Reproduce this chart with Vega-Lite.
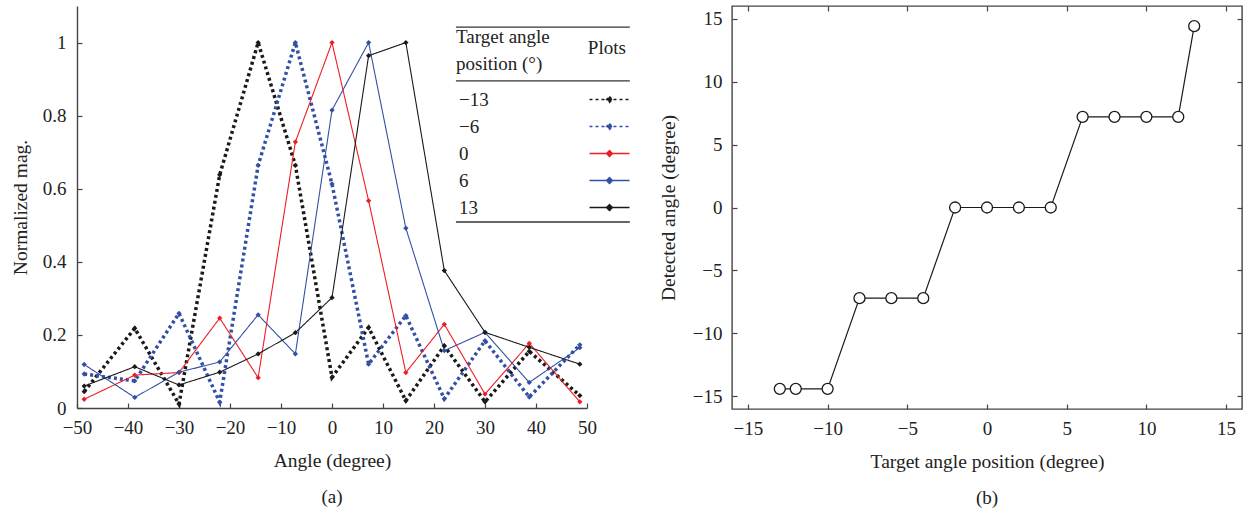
{
  "$schema": "https://vega.github.io/schema/vega-lite/v6.json",
  "background": "white",
  "padding": {"left": 10, "top": 4, "right": 0, "bottom": 0},
  "spacing": 145,
  "bounds": "flush",
  "config": {
    "font": "Liberation Serif",
    "view": {"stroke": null},
    "axis": {
      "labelFont": "Liberation Serif",
      "titleFont": "Liberation Serif",
      "labelFontSize": 19,
      "titleFontSize": 19.5,
      "titleFontWeight": "normal",
      "labelColor": "#222",
      "titleColor": "#222",
      "tickSize": -5,
      "labelPadding": 15,
      "domainColor": "#444",
      "domainWidth": 1.4,
      "tickColor": "#444",
      "tickWidth": 1.2,
      "grid": false,
      "labelFlush": false,
      "labelOverlap": false
    },
    "legend": {
      "labelFont": "Liberation Serif",
      "titleFont": "Liberation Serif"
    },
    "title": {"font": "Liberation Serif", "fontSize": 19, "fontWeight": "normal", "color": "#222"}
  },
  "datasets": {
    "lines": [
      {"target": "−13", "angle": -48.59, "mag": 0.045},
      {"target": "−13", "angle": -38.68, "mag": 0.218},
      {"target": "−13", "angle": -30, "mag": 0.011},
      {"target": "−13", "angle": -22.02, "mag": 0.638},
      {"target": "−13", "angle": -14.48, "mag": 1.0},
      {"target": "−13", "angle": -7.18, "mag": 0.664},
      {"target": "−13", "angle": 0, "mag": 0.084},
      {"target": "−13", "angle": 7.18, "mag": 0.22},
      {"target": "−13", "angle": 14.48, "mag": 0.02},
      {"target": "−13", "angle": 22.02, "mag": 0.17},
      {"target": "−13", "angle": 30, "mag": 0.017},
      {"target": "−13", "angle": 38.68, "mag": 0.155},
      {"target": "−13", "angle": 48.59, "mag": 0.034},
      {"target": "−6", "angle": -48.59, "mag": 0.093},
      {"target": "−6", "angle": -38.68, "mag": 0.074},
      {"target": "−6", "angle": -30, "mag": 0.259},
      {"target": "−6", "angle": -22.02, "mag": 0.016},
      {"target": "−6", "angle": -14.48, "mag": 0.664},
      {"target": "−6", "angle": -7.18, "mag": 1.0},
      {"target": "−6", "angle": 0, "mag": 0.613},
      {"target": "−6", "angle": 7.18, "mag": 0.12},
      {"target": "−6", "angle": 14.48, "mag": 0.253},
      {"target": "−6", "angle": 22.02, "mag": 0.025},
      {"target": "−6", "angle": 30, "mag": 0.184},
      {"target": "−6", "angle": 38.68, "mag": 0.03},
      {"target": "−6", "angle": 48.59, "mag": 0.173},
      {"target": "0", "angle": -48.59, "mag": 0.024},
      {"target": "0", "angle": -38.68, "mag": 0.09},
      {"target": "0", "angle": -30, "mag": 0.097},
      {"target": "0", "angle": -22.02, "mag": 0.246},
      {"target": "0", "angle": -14.48, "mag": 0.083},
      {"target": "0", "angle": -7.18, "mag": 0.728},
      {"target": "0", "angle": 0, "mag": 1.0},
      {"target": "0", "angle": 7.18, "mag": 0.567},
      {"target": "0", "angle": 14.48, "mag": 0.097},
      {"target": "0", "angle": 22.02, "mag": 0.229},
      {"target": "0", "angle": 30, "mag": 0.038},
      {"target": "0", "angle": 38.68, "mag": 0.177},
      {"target": "0", "angle": 48.59, "mag": 0.017},
      {"target": "6", "angle": -48.59, "mag": 0.119},
      {"target": "6", "angle": -38.68, "mag": 0.029},
      {"target": "6", "angle": -30, "mag": 0.098},
      {"target": "6", "angle": -22.02, "mag": 0.126},
      {"target": "6", "angle": -14.48, "mag": 0.255},
      {"target": "6", "angle": -7.18, "mag": 0.148},
      {"target": "6", "angle": 0, "mag": 0.815},
      {"target": "6", "angle": 7.18, "mag": 1.0},
      {"target": "6", "angle": 14.48, "mag": 0.492},
      {"target": "6", "angle": 22.02, "mag": 0.157},
      {"target": "6", "angle": 30, "mag": 0.207},
      {"target": "6", "angle": 38.68, "mag": 0.07},
      {"target": "6", "angle": 48.59, "mag": 0.165},
      {"target": "13", "angle": -48.59, "mag": 0.06},
      {"target": "13", "angle": -38.68, "mag": 0.113},
      {"target": "13", "angle": -30, "mag": 0.063},
      {"target": "13", "angle": -22.02, "mag": 0.098},
      {"target": "13", "angle": -14.48, "mag": 0.148},
      {"target": "13", "angle": -7.18, "mag": 0.206},
      {"target": "13", "angle": 0, "mag": 0.302},
      {"target": "13", "angle": 7.18, "mag": 0.964},
      {"target": "13", "angle": 14.48, "mag": 1.0},
      {"target": "13", "angle": 22.02, "mag": 0.376},
      {"target": "13", "angle": 30, "mag": 0.207},
      {"target": "13", "angle": 38.68, "mag": 0.166},
      {"target": "13", "angle": 48.59, "mag": 0.12}
    ],
    "detect": [
      {"target": -13, "detected": -14.4},
      {"target": -12, "detected": -14.4},
      {"target": -10, "detected": -14.4},
      {"target": -8, "detected": -7.2},
      {"target": -6, "detected": -7.2},
      {"target": -4, "detected": -7.2},
      {"target": -2, "detected": 0},
      {"target": 0, "detected": 0},
      {"target": 2, "detected": 0},
      {"target": 4, "detected": 0},
      {"target": 6, "detected": 7.2},
      {"target": 8, "detected": 7.2},
      {"target": 10, "detected": 7.2},
      {"target": 12, "detected": 7.2},
      {"target": 13, "detected": 14.4}
    ]
  },
  "hconcat": [
    {
      "width": 510,
      "height": 402,
      "title": {"text": "(a)", "orient": "bottom", "frame": "group", "offset": 18},
      "layer": [
        {
          "data": {"name": "lines"},
          "mark": {"type": "line", "clip": false},
          "encoding": {
            "x": {
              "field": "angle", "type": "quantitative",
              "scale": {"domain": [-50, 50], "nice": false, "zero": false},
              "axis": {"values": [-50, -40, -30, -20, -10, 0, 10, 20, 30, 40, 50], "title": "Angle (degree)", "titlePadding": 14}
            },
            "y": {
              "field": "mag", "type": "quantitative",
              "scale": {"domain": [0, 1.1], "nice": false, "zero": false},
              "axis": {"values": [0, 0.2, 0.4, 0.6, 0.8, 1], "format": ".1~f", "title": "Normalized mag.", "labelPadding": 16, "titlePadding": 12}
            },
            "color": {
              "field": "target", "type": "nominal", "title": ["Target angle", "position (°)"],
              "scale": {"domain": ["−13", "−6", "0", "6", "13"], "range": ["#1a1a1a", "#3350a6", "#ee1d25", "#3350a6", "#1a1a1a"]},
              "legend": {
                "orient": "none", "legendX": 379, "legendY": 22, "padding": 0,
                "symbolType": "M-4,0L4,0M0,-0.6L0.6,0L0,0.6L-0.6,0Z", "symbolSize": 100, "symbolOffset": 144, "symbolStrokeWidth": 1.4,
                "labelOffset": -160, "labelAlign": "left", "labelFontSize": 19, "labelColor": "#222", "labelLimit": 0,
                "titleFontSize": 19, "titleFontWeight": "normal", "titleColor": "#222", "titleLineHeight": 27, "titlePadding": 16, "titleLimit": 0,
                "rowPadding": 7
              }
            },
            "strokeDash": {
              "field": "target", "type": "nominal", "title": ["Target angle", "position (°)"],
              "scale": {"domain": ["−13", "−6", "0", "6", "13"], "range": [[3, 3], [3, 3], [1, 0], [1, 0], [1, 0]]}
            },
            "strokeWidth": {
              "condition": {"test": "datum.target === '−13' || datum.target === '−6'", "value": 3.5},
              "value": 1.1
            }
          }
        },
        {
          "data": {"name": "lines"},
          "mark": {"type": "point", "shape": "diamond", "size": 28, "filled": true, "opacity": 1},
          "encoding": {
            "x": {"field": "angle", "type": "quantitative"},
            "y": {"field": "mag", "type": "quantitative"},
            "color": {"field": "target", "type": "nominal", "legend": null}
          }
        },
        {
          "data": {"values": [{}]},
          "mark": {"type": "text", "text": "Plots", "fontSize": 19, "font": "Liberation Serif", "color": "#222", "align": "center", "baseline": "middle"},
          "encoding": {"x": {"datum": 53.9}, "y": {"datum": 0.985}}
        },
        {
          "data": {"values": [{}]},
          "mark": {"type": "rule", "color": "#333", "strokeWidth": 1.3},
          "encoding": {"x": {"datum": 24.3}, "x2": {"datum": 58.4}, "y": {"datum": 1.042}}
        },
        {
          "data": {"values": [{}]},
          "mark": {"type": "rule", "color": "#333", "strokeWidth": 1.3},
          "encoding": {"x": {"datum": 24.3}, "x2": {"datum": 58.4}, "y": {"datum": 0.895}}
        },
        {
          "data": {"values": [{}]},
          "mark": {"type": "rule", "color": "#333", "strokeWidth": 1.3},
          "encoding": {"x": {"datum": 24.3}, "x2": {"datum": 58.4}, "y": {"datum": 0.509}}
        }
      ]
    },
    {
      "width": 510,
      "height": 403,
      "view": {"stroke": "#444", "strokeWidth": 1.4},
      "title": {"text": "(b)", "orient": "bottom", "frame": "group", "offset": 18},
      "data": {"name": "detect"},
      "resolve": {"axis": {"x": "independent", "y": "independent"}},
      "layer": [
        {
          "mark": {"type": "line", "color": "#1a1a1a", "strokeWidth": 1.2},
          "encoding": {
            "x": {
              "field": "target", "type": "quantitative",
              "scale": {"domain": [-16, 16], "nice": false, "zero": false},
              "axis": {"orient": "bottom", "values": [-15, -10, -5, 0, 5, 10, 15], "title": "Target angle position (degree)", "titlePadding": 14, "domain": false}
            },
            "y": {
              "field": "detected", "type": "quantitative",
              "scale": {"domain": [-16, 16], "nice": false, "zero": false},
              "axis": {"orient": "left", "values": [-15, -10, -5, 0, 5, 10, 15], "title": "Detected angle (degree)", "titlePadding": 14, "domain": false}
            }
          }
        },
        {
          "mark": {"type": "point", "shape": "circle", "size": 121, "fill": "white", "stroke": "#1a1a1a", "strokeWidth": 1.3, "opacity": 1},
          "encoding": {
            "x": {"field": "target", "type": "quantitative", "axis": {"orient": "top", "values": [-15, -10, -5, 0, 5, 10, 15], "labels": false, "title": null, "domain": false}},
            "y": {"field": "detected", "type": "quantitative", "axis": {"orient": "right", "values": [-15, -10, -5, 0, 5, 10, 15], "labels": false, "title": null, "domain": false}}
          }
        }
      ]
    }
  ]
}
